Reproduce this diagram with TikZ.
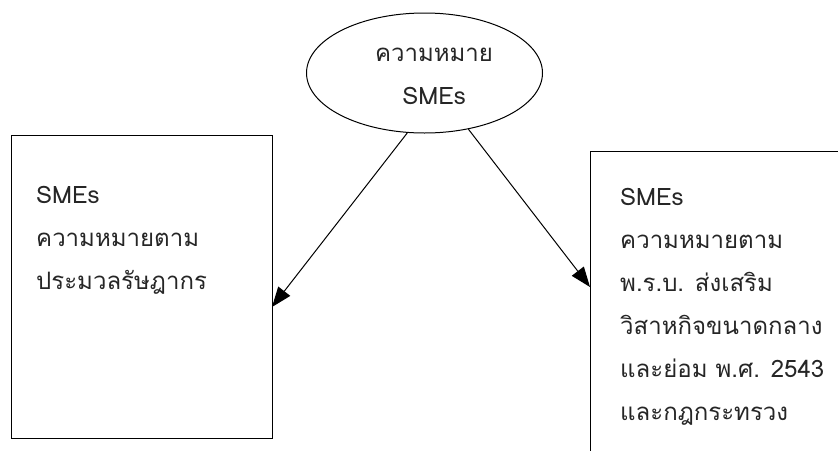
\documentclass[tikz,border=0pt]{standalone}
\usepackage{fontspec}
\newfontfamily\thaifont[Script=Thai]{Loma}
\usetikzlibrary{arrows.meta,shapes.geometric}
\tikzset{
  box/.style={draw, line width=1pt, rectangle, inner sep=0pt},
  oval/.style={draw, line width=1pt, ellipse, inner sep=0pt},
  txt/.style={font=\thaifont\fontsize{24}{43}\selectfont, text=black!85, align=left, inner sep=0pt},
  ctxt/.style={font=\thaifont\fontsize{24}{43}\selectfont, text=black!85, align=center, inner sep=0pt},
  link/.style={line width=1pt, -{Triangle[length=20pt,width=15pt]}}
}
\begin{document}
\begin{tikzpicture}[x=1pt,y=-1pt]
\useasboundingbox (0,0) rectangle (838,450);
\clip (0,0) rectangle (838,450);
\node[oval, minimum width=236pt, minimum height=120pt] (ell) at (424.5,73) {};
\node[ctxt] (elltext) at (434,76) {ความหมาย\\SMEs};
\node[box, minimum width=261pt, minimum height=303pt] (lrect) at (141.5,286.5) {};
\node[box, minimum width=320pt, minimum height=360pt] (rrect) at (750,331) {};
\node[txt, anchor=north west] (ltext) at (36,186) {SMEs\\ความหมายตาม\\ประมวลรัษฎากร};
\node[txt, anchor=north west] (rtext) at (620,188) {SMEs\\ความหมายตาม\\พ.ร.บ. ส่งเสริม\\วิสาหกิจขนาดกลาง\\และย่อม พ.ศ. 2543\\และกฎกระทรวง};
\coordinate (ltip) at (272,307);
\coordinate (rtip) at (590,287);
\draw[link] (ell.254) -- (ltip);
\draw[link] (ell.308) -- (rtip);
\end{tikzpicture}
\end{document}
